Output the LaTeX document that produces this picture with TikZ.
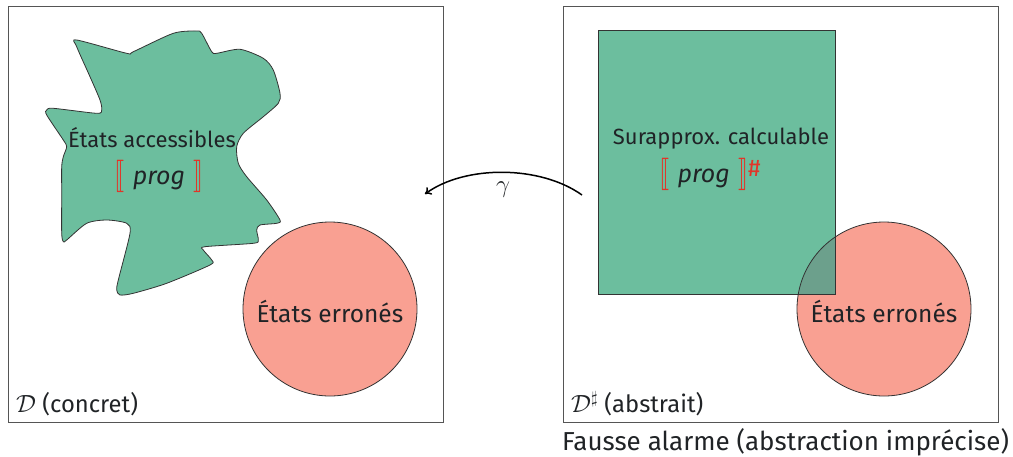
\documentclass[tikz,border=0pt]{standalone}
\usepackage{fontspec}
\setmainfont{Fira Sans}
\usepackage{stmaryrd}
\usepackage{graphicx}
\usetikzlibrary{arrows.meta}

\definecolor{txt}{HTML}{202326}
\definecolor{accgreen}{RGB}{108,190,158}
\definecolor{errred}{RGB}{249,160,146}
\definecolor{mixed}{RGB}{108,160,140}
\definecolor{semred}{RGB}{226,52,40}
\definecolor{frame}{RGB}{85,85,85}

\newcommand{\semL}{\textcolor{semred}{\scalebox{1}[1.3]{$\llbracket$}}}
\newcommand{\semR}{\textcolor{semred}{\scalebox{1}[1.3]{$\rrbracket$}}}

\tikzset{
  domainbox/.style={draw=frame, line width=1pt},
  label/.style={text=txt, font=\fontsize{22}{26}\selectfont, inner sep=0pt},
  semlabel/.style={text=txt, font=\fontsize{25}{30}\selectfont, inner sep=0pt},
  biglabel/.style={text=txt, font=\fontsize{24.5}{28}\selectfont, inner sep=0pt},
  footlabel/.style={text=txt, font=\fontsize{23.8}{28}\selectfont, inner sep=0pt, anchor=west},
  shapeline/.style={draw=black!80, line width=0.8pt},
  concretize/.style={-{To[length=6pt,width=9pt]}, line width=1.5pt, black}
}

\begin{document}
\begin{tikzpicture}[x=1pt, y=-1pt]
  \useasboundingbox (0,0) rectangle (1013,456);

  % the two domains
  \draw[domainbox] (8,6) rectangle (443,422);
  \draw[domainbox] (563,6) rectangle (998,422);

  % concrete side: reachable states
  \path[fill=accgreen, shapeline] plot[smooth cycle, tension=0.45] coordinates {
    (76.7,40) (126.7,53.3) (133.3,51.7) (173.3,33.3) (196.7,31) (201.7,33.3)
    (211.7,51.7) (216.7,53.3) (240,49.3) (263.3,58.3) (273.3,70) (280,93.3)
    (278.3,103.3) (263.3,116.7) (243.3,133.3) (236.7,146.7) (238.3,163.3)
    (246.7,176.7) (266.7,200) (280,220) (276.7,223.3) (260,225) (256.7,230)
    (258.3,240) (253.3,243.3) (205,246.7) (203.3,250) (211.7,260) (210,265)
    (166.7,283.3) (133.3,293.3) (120,295) (116.7,290) (118.3,280) (130,233.3)
    (126.7,223.3) (106.7,220) (86.7,223.3) (66.7,240) (63.3,241.7) (61.7,233.3)
    (61.7,193.3) (61.7,166.7) (63.3,156.7) (66.7,146.7) (63.3,140) (46.7,115)
    (46.7,110) (53.3,108.3) (96.7,113.3) (101.7,110) (100,100) (90,76.7)
    (76.7,46.7)};

  % concrete side: error states
  \path[fill=errred, shapeline] (330,309) circle[radius=87];

  \node[label] (acc) at (152,138) {États accessibles};
  \node[semlabel] (sem) at (159,176) {\semL\,\,\textit{prog}\,\,\semR};
  \node[biglabel] (errC) at (330,311) {États erronés};
  \node[footlabel] (dC) at (16,404) {$\mathcal{D}$ (concret)};

  % abstract side: computable over-approximation and error states
  \fill[errred] (884,309) circle[radius=87];
  \fill[accgreen] (598,30) rectangle (835,294);
  \begin{scope}
    \clip (884,309) circle[radius=87];
    \fill[mixed] (598,30) rectangle (835,294);
  \end{scope}
  \draw[shapeline] (598,30) rectangle (835,294);
  \draw[shapeline] (884,309) circle[radius=87];

  \node[label] (over) at (721,139) {Surapprox. calculable};
  \node[semlabel] (semA) at (710,174) {\semL\,\,\textit{prog}\,\,\semR\textcolor{semred}{\raisebox{0.45ex}{\fontsize{24}{28}\selectfont\#}}};
  \node[biglabel] (errA) at (884,311) {États erronés};
  \node[footlabel] (dA) at (571,404) {$\mathcal{D}^\sharp$ (abstrait)};
  \node[footlabel, font=\fontsize{26}{30}\selectfont] (alarm) at (562,442) {Fausse alarme (abstraction imprécise)};

  % concretization arrow
  \coordinate (gfrom) at (582,195);
  \coordinate (gto) at (425,194);
  \draw[concretize] (gfrom) .. controls (540,165) and (465,165) .. (gto);
  \node[text=txt, font=\fontsize{26}{30}\selectfont, inner sep=0pt] (gamma) at (503,190) {$\gamma$};
\end{tikzpicture}
\end{document}
